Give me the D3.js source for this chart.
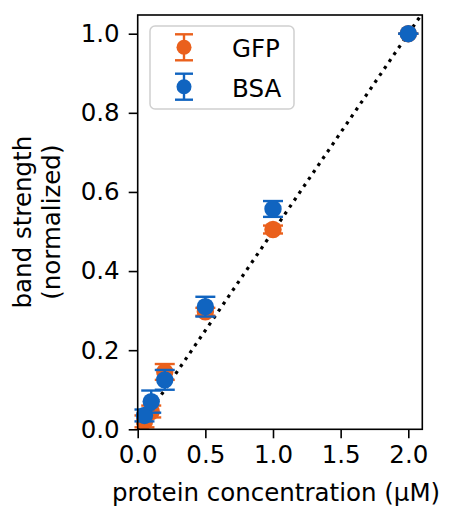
<!DOCTYPE html>
<html><head><meta charset="utf-8">
<script src="https://cdn.jsdelivr.net/npm/d3@7"></script>
<style>body{margin:0;background:#fff}svg{display:block}text{font-family:"DejaVu Sans",sans-serif;fill:#000}</style>
</head><body><svg id="c" width="450" height="508"></svg>
<script>
const concentrations = [0.05, 0.1, 0.2, 0.5, 1.0, 2.0];
const gfpValues = [0.02, 0.045, 0.145, 0.297, 0.505, 1.0];
const gfpErrors = [0.015, 0.015, 0.02, 0.01, 0.01, 0.0];
const bsaValues = [0.035, 0.07, 0.125, 0.31, 0.557, 1.0];
const bsaErrors = [0.015, 0.028, 0.025, 0.025, 0.02, 0.0];
const xTicks = [0.0, 0.5, 1.0, 1.5, 2.0];
const yTicks = [0.0, 0.2, 0.4, 0.6, 0.8, 1.0];
const fitLine = [[0, 0], [2.1, 1.05]];
const seriesNames = ["GFP", "BSA"];
const colors = ["#EA601C", "#1064C0"];

const svg = d3.select("#c");
const L = 137.7, R = 422.3, T = 15, B = 429.3;
const x = d3.scaleLinear().range([L, R]);
const y = d3.scaleLinear().range([B, T]);
x.domain([0, (R - L) / ((408.3 - L) / 2)]);
y.domain([0, (B - T) / (B - 33.7)]);

const fs = 24.5;
const xa = svg.append("g").attr("transform", `translate(0,${B})`)
  .call(d3.axisBottom(x).tickValues(xTicks).tickFormat(d3.format(".1f")).tickSize(9).tickPadding(7));
const ya = svg.append("g").attr("transform", `translate(${L},0)`)
  .call(d3.axisLeft(y).tickValues(yTicks).tickFormat(d3.format(".1f")).tickSize(9).tickPadding(9));
[xa, ya].forEach(a => {
  a.select(".domain").remove();
  a.selectAll(".tick line").attr("stroke", "#000").attr("stroke-width", 1.6);
  a.selectAll(".tick text").attr("font-size", fs).attr("font-family", "DejaVu Sans").attr("fill", "#000");
});

svg.append("clipPath").attr("id", "pc").append("rect")
  .attr("x", L).attr("y", T).attr("width", R - L).attr("height", B - T);
svg.append("path").datum(fitLine)
  .attr("d", d3.line().x(d => x(d[0])).y(d => y(d[1])))
  .attr("stroke", "#000").attr("stroke-width", 3.2).attr("fill", "none")
  .attr("stroke-dasharray", "3.2,5.2").attr("clip-path", "url(#pc)");

const series = [gfpValues, bsaValues].map((vals, i) => ({
  name: seriesNames[i], color: colors[i],
  pts: concentrations.map((c, j) => ({c, v: vals[j], e: [gfpErrors, bsaErrors][i][j]}))
}));
const capW = 10;
series.forEach(s => {
  const g = svg.append("g");
  s.pts.forEach(p => {
    const cx = x(p.c);
    g.append("line").attr("x1", cx).attr("x2", cx).attr("y1", y(p.v - p.e)).attr("y2", y(p.v + p.e))
      .attr("stroke", s.color).attr("stroke-width", 2.4);
    [p.v - p.e, p.v + p.e].forEach(yy => g.append("line")
      .attr("x1", cx - capW).attr("x2", cx + capW).attr("y1", y(yy)).attr("y2", y(yy))
      .attr("stroke", s.color).attr("stroke-width", 2.4));
  });
  g.selectAll("circle").data(s.pts).join("circle")
    .attr("cx", d => x(d.c)).attr("cy", d => y(d.v)).attr("r", 8.7).attr("fill", s.color);
});

svg.append("rect").attr("x", L).attr("y", T).attr("width", R - L).attr("height", B - T)
  .attr("fill", "none").attr("stroke", "#000").attr("stroke-width", 1.6);

const lg = svg.append("g");
lg.append("rect").attr("x", 150).attr("y", 26).attr("width", 144).attr("height", 83).attr("rx", 5)
  .attr("fill", "#fff").attr("fill-opacity", 0.8).attr("stroke", "#d0d0d0").attr("stroke-width", 1.5);
series.forEach((s, i) => {
  const cy = 47.3 + i * 39.4, cx = 184;
  lg.append("line").attr("x1", cx).attr("x2", cx).attr("y1", cy - 13).attr("y2", cy + 13)
    .attr("stroke", s.color).attr("stroke-width", 2.4);
  [-13, 13].forEach(o => lg.append("line").attr("x1", cx - 9).attr("x2", cx + 9)
    .attr("y1", cy + o).attr("y2", cy + o).attr("stroke", s.color).attr("stroke-width", 2.4));
  lg.append("circle").attr("cx", cx).attr("cy", cy).attr("r", 7.5).attr("fill", s.color);
  lg.append("text").attr("x", 232).attr("y", cy + 10).attr("font-size", fs).text(s.name);
});

svg.append("text").attr("x", 276).attr("y", 501).attr("text-anchor", "middle")
  .attr("font-size", fs).text("protein concentration (µM)");
const yl = svg.append("text").attr("transform", `translate(0,${(T + B) / 2}) rotate(-90)`)
  .attr("text-anchor", "middle").attr("font-size", fs);
yl.append("tspan").attr("x", 0).attr("y", 31).text("band strength");
yl.append("tspan").attr("x", 0).attr("y", 60).text("(normalized)");
</script></body></html>
